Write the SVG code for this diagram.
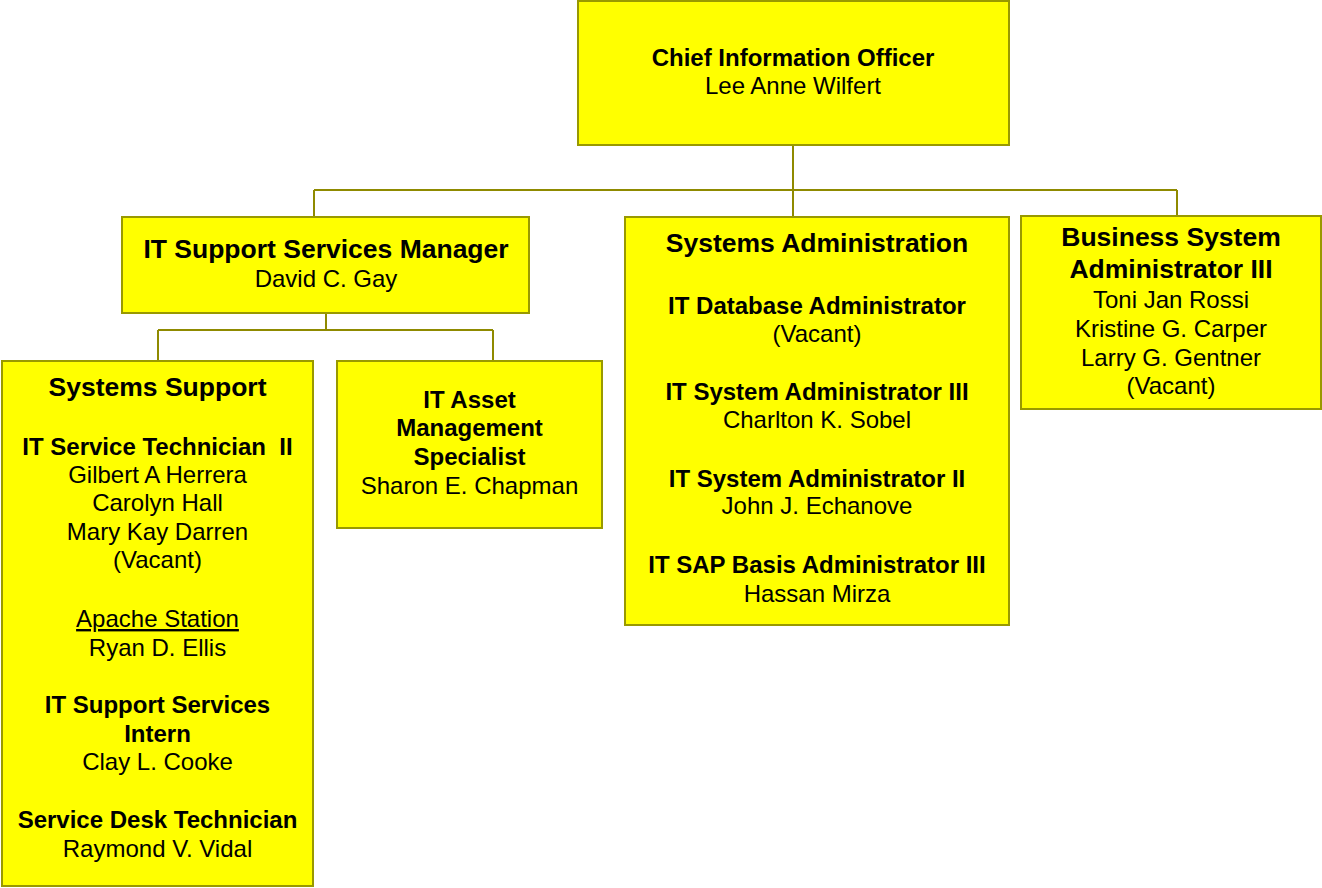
<svg xmlns="http://www.w3.org/2000/svg" width="1322" height="888" viewBox="0 0 1322 888">
<style>
.box{fill:#ffff00;stroke:#999900;stroke-width:2}
.ln{stroke:#8f8a00;stroke-width:2;fill:none}
text{font-family:"Liberation Sans",Arial,sans-serif;font-size:24px;fill:#000;text-anchor:middle}
.b{font-weight:bold}
.h{font-weight:bold;font-size:26.5px}
</style>
<rect width="1322" height="888" fill="#fff"/>
<g id="connectors">
<path class="ln" d="M793,145V217M314,190H1177M314,190V217M1177,190V216"/>
<path class="ln" d="M326,313V330M158,330H493M158,330V361M493,330V361"/>
</g>
<g id="cio">
<rect class="box" x="578" y="1" width="431" height="144"/>
<text class="b" x="793" y="66">Chief Information Officer</text>
<text x="793" y="94">Lee Anne Wilfert</text>
</g>
<g id="itssm">
<rect class="box" x="122" y="217" width="407" height="96"/>
<text class="h" x="326" y="258">IT Support Services Manager</text>
<text x="326" y="287">David C. Gay</text>
</g>
<g id="sysadmin">
<rect class="box" x="625" y="217" width="384" height="408"/>
<text class="h" x="817" y="252">Systems Administration</text>
<text class="b" x="817" y="314">IT Database Administrator</text>
<text x="817" y="342">(Vacant)</text>
<text class="b" x="817" y="400">IT System Administrator III</text>
<text x="817" y="428">Charlton K. Sobel</text>
<text class="b" x="817" y="487">IT System Administrator II</text>
<text x="817" y="514">John J. Echanove</text>
<text class="b" x="817" y="573">IT SAP Basis Administrator III</text>
<text x="817" y="602">Hassan Mirza</text>
</g>
<g id="bsa">
<rect class="box" x="1021" y="216" width="300" height="193"/>
<text class="h" x="1171" y="246">Business System</text>
<text class="h" x="1171" y="278">Administrator III</text>
<text x="1171" y="308">Toni Jan Rossi</text>
<text x="1171" y="337">Kristine G. Carper</text>
<text x="1171" y="366">Larry G. Gentner</text>
<text x="1171" y="394">(Vacant)</text>
</g>
<g id="syssupport">
<rect class="box" x="2" y="361" width="311" height="525"/>
<text class="h" x="157.5" y="396">Systems Support</text>
<text class="b" x="157.5" y="455" xml:space="preserve">IT Service Technician  II</text>
<text x="157.5" y="483">Gilbert A Herrera</text>
<text x="157.5" y="511">Carolyn Hall</text>
<text x="157.5" y="540">Mary Kay Darren</text>
<text x="157.5" y="568">(Vacant)</text>
<text x="157.5" y="627" text-decoration="underline">Apache Station</text>
<text x="157.5" y="656">Ryan D. Ellis</text>
<text class="b" x="157.5" y="713">IT Support Services</text>
<text class="b" x="157.5" y="742">Intern</text>
<text x="157.5" y="770">Clay L. Cooke</text>
<text class="b" x="157.5" y="828">Service Desk Technician</text>
<text x="157.5" y="857">Raymond V. Vidal</text>
</g>
<g id="asset">
<rect class="box" x="337" y="361" width="265" height="167"/>
<text class="b" x="469.5" y="408">IT Asset</text>
<text class="b" x="469.5" y="436">Management</text>
<text class="b" x="469.5" y="465">Specialist</text>
<text x="469.5" y="494">Sharon E. Chapman</text>
</g>
</svg>
